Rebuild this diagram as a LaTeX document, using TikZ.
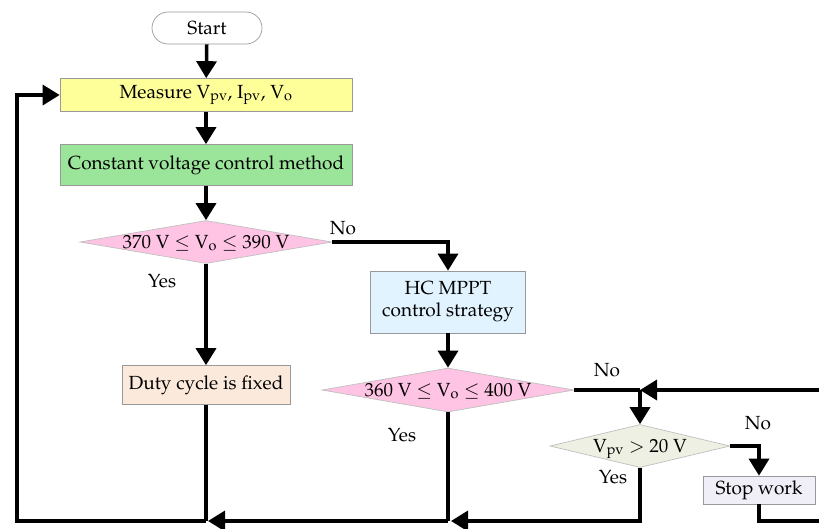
\documentclass[tikz,border=0pt]{standalone}
\usepackage[T1]{fontenc}
\usepackage{mathpazo}
\usetikzlibrary{shapes.geometric,arrows.meta}

\definecolor{measfill}{HTML}{FFFF9A}
\definecolor{cvfill}{HTML}{9AE59A}
\definecolor{testfill}{HTML}{FFC4E4}
\definecolor{hcfill}{HTML}{E1F3FF}
\definecolor{dutyfill}{HTML}{FBE9DB}
\definecolor{pvfill}{HTML}{EEF0E3}
\definecolor{stopfill}{HTML}{F0EFF8}

\begin{document}
\begin{tikzpicture}[x=1pt,y=-1pt,font=\fontsize{19}{22}\selectfont]
\tikzset{
  box/.style={draw=gray!80,line width=0.7pt,inner sep=2pt},
  test/.style={diamond,draw=gray!50,line width=0.7pt,inner sep=0pt,aspect=6,
    text height=12pt,text depth=0pt},
  line/.style={line width=3.5pt},
  flow/.style={line width=3.5pt,-{Triangle[length=17pt,width=20pt]}}
}
\useasboundingbox (0,0) rectangle (819,528);
% process boxes
\node (start) [box,rounded corners=16pt,minimum width=110pt,minimum height=32pt] at (207,28) {Start};
\node (meas) [box,fill=measfill,minimum width=292pt,minimum height=33pt] at (206,95) {Measure V\textsubscript{pv}, I\textsubscript{pv}, V\textsubscript{o}};
\node (cv) [box,fill=cvfill,minimum width=292pt,minimum height=41pt] at (206,165) {Constant voltage control method};
\node (t1) [test,fill=testfill,minimum width=252pt,minimum height=43pt] at (206,242) {370 V $\leq$ V\textsubscript{o} $\leq$ 390 V};
\node (hc) [box,fill=hcfill,align=center,minimum width=155pt,minimum height=62pt] at (448,302) {HC MPPT\\control strategy};
\node (duty) [box,fill=dutyfill,minimum width=168pt,minimum height=39pt] at (206,385) {Duty cycle is fixed};
\node (t2) [test,fill=testfill,minimum width=252pt,minimum height=44pt] at (448,390) {360 V $\leq$ V\textsubscript{o} $\leq$ 400 V};
\node (t3) [test,fill=pvfill,aspect=5,minimum width=180pt,minimum height=43pt] at (640,446) {V\textsubscript{pv} $>$ 20 V};
\node (stop) [box,fill=stopfill,minimum width=112pt,minimum height=28pt] at (759,490) {Stop work};
% branch labels
\node (no1) at (343,228) {No};
\node (yes1) at (162,281) {Yes};
\node (no2) at (607,370) {No};
\node (yes2) at (402,435) {Yes};
\node (no3) at (758,423) {No};
\node (yes3) at (613,477) {Yes};
% junctions and free ends
\coordinate (j1) at (640,390);
\coordinate (rin) at (819,390);
\coordinate (rout) at (819,521);
\coordinate (b2) at (451,521);
\coordinate (b1) at (208,521);
\coordinate (lc) at (17,95);
% connectors
\draw[flow] (start) -- (meas);
\draw[flow] (meas) -- (cv);
\draw[flow] (cv) -- (t1);
\draw[flow] (t1.east) -| (hc.north);
\draw[flow] (t1) -- (duty);
\draw[flow] (hc) -- (t2);
\draw[line] (t2.east) -- (j1);
\draw[flow] (rin) -- (j1);
\draw[flow] (j1) -- (t3.north);
\draw[flow] (t3.east) -| (stop.north);
\draw[line] (stop.south) |- (rout);
\draw[flow] (t3.south) |- (b2);
\draw[line] (t2.south) -- (448,521);
\draw[line] (duty.south) -- (206,521);
\draw[flow] (448,521) -- (b1);
\draw[flow] (206,521) -| (lc) -- (meas.west);
\end{tikzpicture}
\end{document}
